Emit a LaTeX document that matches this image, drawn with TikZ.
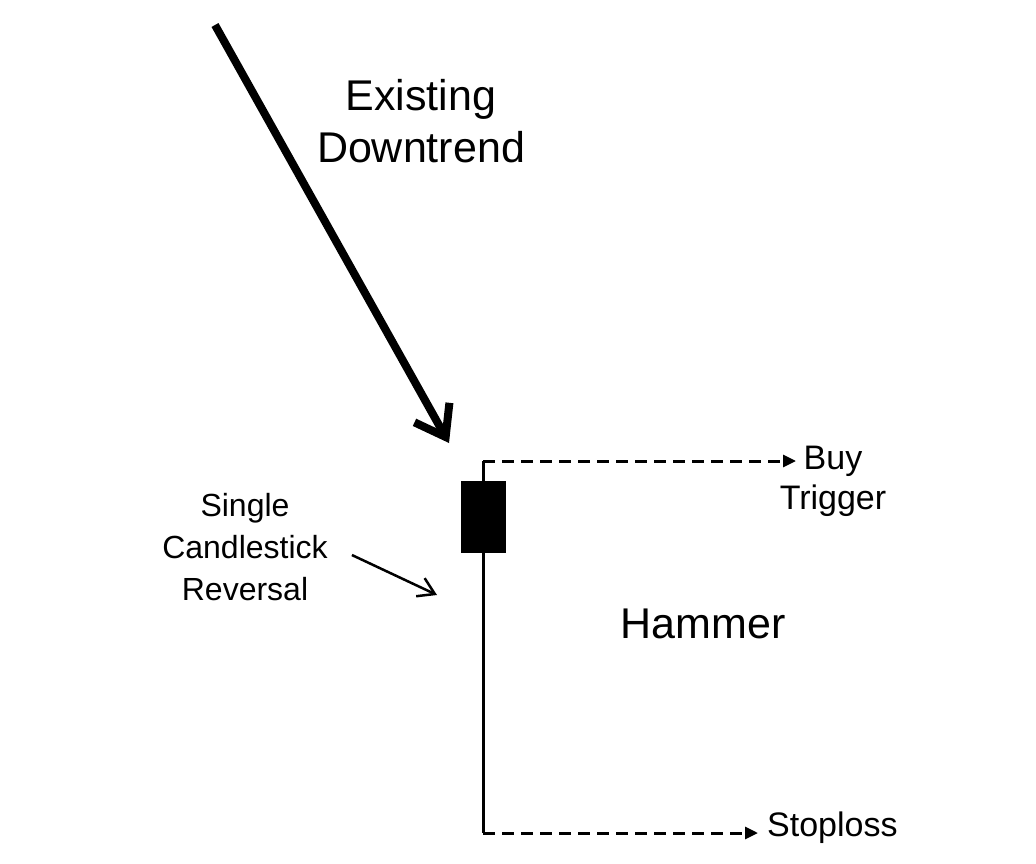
\documentclass[tikz,border=0pt]{standalone}
\usepackage{fontspec}
\setmainfont{Liberation Sans}
\usetikzlibrary{arrows.meta,positioning}

\begin{document}
\begin{tikzpicture}[x=1pt,y=-1pt,
    bigtext/.style={align=center,inner sep=0pt,font=\fontsize{43}{52}\selectfont},
    smalltext/.style={align=center,inner sep=0pt,font=\fontsize{33}{41}\selectfont},
    dashline/.style={line width=3pt,dash pattern=on 12pt off 7pt,-{Triangle[length=13pt,width=12pt]}}]
  \useasboundingbox[fill=white] (0,0) rectangle (1036,864);

  % the trend
  \coordinate (start) at (215,25);
  \coordinate (tip) at (449,443);
  \draw[line width=8pt,-{Straight Barb[length=28pt,width=40pt]}] (start) -- (tip);
  \node (trend) [bigtext] at (421,121) {Existing\\Downtrend};

  % the candle
  \coordinate (high) at (483,461);
  \coordinate (low) at (483,833);
  \draw[line width=3pt] (high) -- (low);
  \fill (461,481) rectangle (506,553);

  \node (buy) [smalltext,font=\fontsize{34}{40}\selectfont] at (833,481) {Buy\\Trigger};
  \coordinate (buyend) at (796,461);
  \draw[dashline] (high) -- (buyend);

  \node (stop) [smalltext,font=\fontsize{34}{40}\selectfont,anchor=base west] at (767,836) {Stoploss};
  \draw[dashline,shorten >=9pt] (low) -- (low -| stop.west);

  \node (rev) [smalltext,font=\fontsize{32}{42}\selectfont] at (245,547) {Single\\Candlestick\\Reversal};
  \coordinate (ptr) at (437,595);
  \draw[line width=2.5pt,-{Straight Barb[length=16pt,width=20pt]}] ([shift={(24,8)}]rev.east) -- (ptr);

  \node (hammer) [bigtext,anchor=base] at (703,638) {Hammer};
\end{tikzpicture}
\end{document}
